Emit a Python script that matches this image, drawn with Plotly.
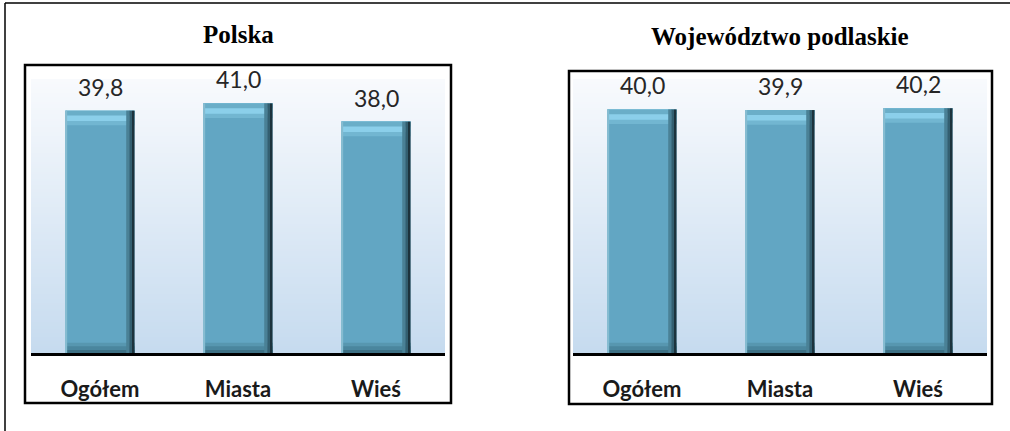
import base64, struct, zlib
import plotly.graph_objects as go

# ---------------- data ----------------
categories = ["Ogółem", "Miasta", "Wieś"]
polska_values = [39.8, 41.0, 38.0]
podlaskie_values = [40.0, 39.9, 40.2]
panel_titles = ["Polska", "Województwo podlaskie"]
value_labels_polska = ["39,8", "41,0", "38,0"]
value_labels_podlaskie = ["40,0", "39,9", "40,2"]

W, H = 1010, 431
def px(x): return x / W
def py(y): return 1 - y / H

# ---------------- gradient background png ----------------
def gradient_png(top, bottom, n=128):
    raw = b""
    for i in range(n):
        t = i / (n - 1)
        c = bytes(int(round(top[k] + (bottom[k] - top[k]) * t)) for k in range(3))
        raw += b"\x00" + c
    def chunk(tag, data):
        return struct.pack(">I", len(data)) + tag + data + struct.pack(">I", zlib.crc32(tag + data) & 0xffffffff)
    png = b"\x89PNG\r\n\x1a\n"
    png += chunk(b"IHDR", struct.pack(">IIBBBBB", 1, n, 8, 2, 0, 0, 0))
    png += chunk(b"IDAT", zlib.compress(raw))
    png += chunk(b"IEND", b"")
    return "data:image/png;base64," + base64.b64encode(png).decode()

bg_src = gradient_png((248, 250, 253), (198, 219, 239))

BAR = "#62a6c3"
fig = go.Figure()

def bar(xa, ya, y, color, base=None, width=0.5, offset=None):
    fig.add_trace(go.Bar(x=categories, y=y, base=base, width=width, offset=offset,
                         marker=dict(color=color, line=dict(width=0)),
                         xaxis=xa, yaxis=ya, hoverinfo="skip"))

def add_bars(values, xa, ya):
    n = len(values)
    # main body
    bar(xa, ya, values, BAR)
    # bottom bevel
    bar(xa, ya, [1.7] * n, "#5797b0", base=0)
    bar(xa, ya, [1.1] * n, "#4a869e", base=0)
    bar(xa, ya, [0.5] * n, "#3d7084", base=0)
    # top bevel
    bar(xa, ya, [2.4] * n, "#72b6d1", base=[v - 2.4 for v in values])
    bar(xa, ya, [1.7] * n, "#8bcfea", base=[v - 1.7 for v in values])
    bar(xa, ya, [0.8] * n, "#6aaec8", base=[v - 0.8 for v in values])
    # left edge
    bar(xa, ya, values, "#86bcd1", width=0.012, offset=-0.25)
    # right shading
    bar(xa, ya, values, "#4a8196", width=0.025, offset=0.19)
    bar(xa, ya, values, "#335f70", width=0.02, offset=0.213)
    bar(xa, ya, values, "#1c333d", width=0.018, offset=0.232)

add_bars(polska_values, "x", "y")
add_bars(podlaskie_values, "x2", "y2")

annotations = []
for vals, labs, xr, yr in [(polska_values, value_labels_polska, "x", "y"),
                           (podlaskie_values, value_labels_podlaskie, "x2", "y2")]:
    for c, v, t in zip(categories, vals, labs):
        annotations.append(dict(x=c, y=v, xref=xr, yref=yr, text=t, showarrow=False,
                                yanchor="bottom", yshift=8,
                                font=dict(family="Lato", size=23, color="#262626")))

annotations.append(dict(x=px(238), y=py(35), xref="paper", yref="paper", text="<b>" + panel_titles[0] + "</b>",
                        showarrow=False, xanchor="center", yanchor="middle",
                        font=dict(family="Liberation Serif", size=25, color="black")))
annotations.append(dict(x=px(780), y=py(36), xref="paper", yref="paper", text="<b>" + panel_titles[1] + "</b>",
                        showarrow=False, xanchor="center", yanchor="middle",
                        font=dict(family="Liberation Serif", size=25, color="black")))

shapes = [
    dict(type="line", xref="paper", yref="paper", x0=px(5), x1=1.0, y0=py(3), y1=py(3),
         line=dict(color="black", width=1.5)),
    dict(type="line", xref="paper", yref="paper", x0=px(5), x1=px(5), y0=0, y1=py(3),
         line=dict(color="black", width=1.5)),
    dict(type="rect", xref="paper", yref="paper", x0=px(25), x1=px(451), y0=py(403), y1=py(65),
         line=dict(color="black", width=2.5), fillcolor="rgba(0,0,0,0)"),
    dict(type="rect", xref="paper", yref="paper", x0=px(569), x1=px(992), y0=py(404), y1=py(71),
         line=dict(color="black", width=2.5), fillcolor="rgba(0,0,0,0)"),
]

images = [
    dict(source=bg_src, xref="x domain", yref="y domain", x=0, y=1, sizex=1, sizey=1,
         xanchor="left", yanchor="top", sizing="stretch", layer="below"),
    dict(source=bg_src, xref="x2 domain", yref="y2 domain", x=0, y=1, sizex=1, sizey=1,
         xanchor="left", yanchor="top", sizing="stretch", layer="below"),
]

xaxis_common = dict(showline=True, linecolor="black", linewidth=3, showgrid=False, zeroline=False,
                    ticks="outside", ticklen=15, tickcolor="rgba(0,0,0,0)",
                    tickfont=dict(family="Lato", size=22, color="#1a1a1a", weight="bold"), fixedrange=True)
yaxis_common = dict(range=[0, 45], visible=False, showgrid=False, zeroline=False, fixedrange=True)

fig.update_layout(
    width=W, height=H, margin=dict(l=0, r=0, t=0, b=0),
    paper_bgcolor="white", plot_bgcolor="rgba(0,0,0,0)",
    barmode="overlay", showlegend=False,
    xaxis=dict(domain=[px(31), px(445)], anchor="y", **xaxis_common),
    yaxis=dict(domain=[py(353), py(79)], anchor="x", **yaxis_common),
    xaxis2=dict(domain=[px(573), px(987)], anchor="y2", **xaxis_common),
    yaxis2=dict(domain=[py(353), py(79)], anchor="x2", **yaxis_common),
    annotations=annotations, shapes=shapes, images=images,
)

fig.write_html("out.html", config={"displayModeBar": False},
               post_script="document.body.style.margin='0';document.body.style.overflow='hidden';")
